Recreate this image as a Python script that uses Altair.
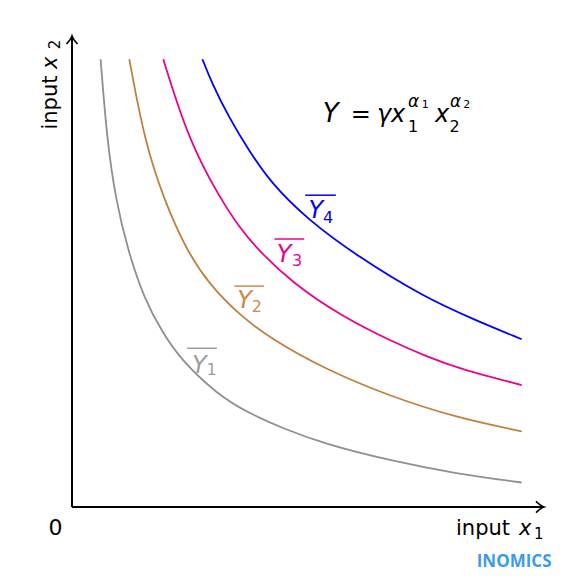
import altair as alt
import pandas as pd

# ---------------- data ----------------
gray_x = [0.606, 0.742, 0.928, 1.182, 1.538, 1.924, 2.314, 3.066, 3.771, 4.470, 5.324, 6.737, 8.150, 9.527]
gray_y = [9.507, 7.792, 6.518, 5.456, 4.395, 3.694, 3.121, 2.399, 1.975, 1.669, 1.348, 0.987, 0.705, 0.520]

brown_x = [1.214, 1.532, 1.949, 2.426, 2.888, 3.559, 4.265, 5.324, 6.737, 8.150, 9.527]
brown_y = [9.507, 7.792, 6.518, 5.456, 4.749, 4.059, 3.546, 2.947, 2.348, 1.898, 1.607]

pink_x = [1.934, 2.468, 3.157, 3.559, 3.941, 4.682, 5.699, 6.780, 7.515, 8.220, 9.527]
pink_y = [9.507, 7.792, 6.518, 5.924, 5.456, 4.749, 4.059, 3.514, 3.195, 2.930, 2.590]

blue_x = [2.763, 2.966, 3.316, 3.739, 4.220, 4.979, 6.059, 7.443, 8.502, 9.527]
blue_y = [9.507, 8.996, 8.287, 7.580, 6.873, 6.115, 5.314, 4.465, 3.985, 3.561]

curve_names = ["Y1", "Y2", "Y3", "Y4"]
curve_colors = ["#8f8f8f", "#c08040", "#ec008c", "#0000ff"]
label_colors = ["#9e9e9e", "#c88a4c", "#ec008c", "#0000ff"]
label_subs = ["1", "2", "3", "4"]

# label anchors (data units): Y letter, subscript, overline
label_Y_x = [2.54, 3.50, 4.34, 5.01]
label_Y_y = [2.85, 4.22, 5.21, 6.13]
label_sub_x = [2.85, 3.81, 4.66, 5.32]
label_sub_y = [2.80, 4.13, 5.12, 6.04]
over_x1 = [2.44, 3.44, 4.29, 4.94]
over_x2 = [3.07, 4.07, 4.92, 5.59]
over_y = [3.37, 4.69, 5.69, 6.62]

XMAX, YMAX = 10, 10

# ---------------- build tables ----------------
rows = []
for name, xs_, ys_ in zip(curve_names, [gray_x, brown_x, pink_x, blue_x], [gray_y, brown_y, pink_y, blue_y]):
    for i, (a, b) in enumerate(zip(xs_, ys_)):
        rows.append({"curve": name, "i": i, "x": a, "y": b})
curves = pd.DataFrame(rows)

xs = alt.Scale(domain=[0, XMAX], nice=False, zero=False)
ys = alt.Scale(domain=[0, YMAX], nice=False, zero=False)

def X(f="x"):
    return alt.X(f"{f}:Q", scale=xs, axis=None)

def Y(f="y"):
    return alt.Y(f"{f}:Q", scale=ys, axis=None)

curve_layer = alt.Chart(curves).mark_line(strokeWidth=1.8, interpolate="basis").encode(
    x=X(), y=Y(), order="i:Q",
    color=alt.Color("curve:N", scale=alt.Scale(domain=curve_names, range=curve_colors), legend=None),
)

axes_df = pd.DataFrame({"x": [0, 0], "y": [0, 0], "x2": [XMAX, 0], "y2": [0, YMAX]})
axes_layer = alt.Chart(axes_df).mark_rule(strokeWidth=2, color="black").encode(
    x=X(), y=Y(), x2="x2:Q", y2="y2:Q")

arrow_r = alt.Chart(pd.DataFrame({"x": [XMAX], "y": [0]})).mark_point(
    shape="M -1 -0.7 Q -0.4 -0.12 0 0 Q -0.4 0.12 -1 0.7", filled=False,
    size=256, stroke="black", strokeWidth=1.6, opacity=1).encode(x=X(), y=Y())
arrow_u = alt.Chart(pd.DataFrame({"x": [0], "y": [YMAX]})).mark_point(
    shape="M -0.7 1 Q -0.12 0.4 0 0 Q 0.12 0.4 0.7 1", filled=False,
    size=256, stroke="black", strokeWidth=1.6, opacity=1).encode(x=X(), y=Y())

over_df = pd.DataFrame({"x": over_x1, "x2": over_x2, "y": over_y, "c": label_colors})
over_layer = alt.Chart(over_df).mark_rule(strokeWidth=1.5).encode(
    x=X(), x2="x2:Q", y=Y(), color=alt.Color("c:N", scale=None))

# text tables
italic_rows = [
    {"t": "Y", "x": lx, "y": ly, "s": 24, "c": c} for lx, ly, c in zip(label_Y_x, label_Y_y, label_colors)
] + [
    {"t": "x", "x": 9.47, "y": -0.594, "s": 21, "c": "black"},
    {"t": "Y", "x": 5.31, "y": 8.18, "s": 26, "c": "black"},
    {"t": "γ", "x": 6.46, "y": 8.18, "s": 24, "c": "black"},
    {"t": "x", "x": 6.76, "y": 8.18, "s": 24, "c": "black"},
    {"t": "α", "x": 7.12, "y": 8.50, "s": 17, "c": "black"},
    {"t": "x", "x": 7.69, "y": 8.18, "s": 24, "c": "black"},
    {"t": "α", "x": 8.01, "y": 8.50, "s": 17, "c": "black"},
]
upright_rows = [
    {"t": s, "x": lx, "y": ly, "s": 16, "c": c} for s, lx, ly, c in zip(label_subs, label_sub_x, label_sub_y, label_colors)
] + [
    {"t": "1", "x": 9.79, "y": -0.686, "s": 15, "c": "black"},
    {"t": "1", "x": 7.12, "y": 7.96, "s": 16, "c": "black"},
    {"t": "1", "x": 7.41, "y": 8.48, "s": 11, "c": "black"},
    {"t": "2", "x": 8.00, "y": 7.96, "s": 16, "c": "black"},
    {"t": "2", "x": 8.29, "y": 8.48, "s": 11, "c": "black"},
]
right_rows = [
    {"t": "input", "x": 9.28, "y": -0.594, "s": 21, "c": "black"},
]
center_rows = [
    {"t": "=", "x": 6.12, "y": 8.18, "s": 24, "c": "black"},
    {"t": "0", "x": -0.35, "y": -0.594, "s": 22, "c": "black"},
]
# rotated texts (angle 270): align right -> text ends at the anchor (upper end)
rot_end_rows = [
    {"t": "input", "x": -0.324, "y": 9.16, "s": 21, "c": "black"},
]
rot_up_rows = [
    {"t": "2", "x": -0.254, "y": 9.72, "s": 15, "c": "black"},
]
rot_it_rows = [
    {"t": "x", "x": -0.324, "y": 9.30, "s": 21, "c": "black"},
]

def text_layer(rows_, **kw):
    return alt.Chart(pd.DataFrame(rows_)).mark_text(font="DejaVu Sans", baseline="alphabetic", **kw).encode(
        x=X(), y=Y(), text="t:N",
        size=alt.Size("s:Q", scale=None),
        color=alt.Color("c:N", scale=None),
    )

t_italic = text_layer(italic_rows, align="left", fontStyle="italic")
t_upright = text_layer(upright_rows, align="left")
t_right = text_layer(right_rows, align="right")
t_center = text_layer(center_rows, align="center")
t_rot_end = text_layer(rot_end_rows, align="right", angle=270)
t_rot = text_layer(rot_up_rows, align="left", angle=270)
t_rot_it = text_layer(rot_it_rows, align="left", angle=270, fontStyle="italic")

brand = alt.Chart(pd.DataFrame({"t": ["INOMICS"], "x": [8.574], "y": [-1.268]})).mark_text(
    font="Open Sans", fontWeight="bold", fontSize=17, color="#3c9be8", align="left", baseline="alphabetic"
).encode(x=X(), y=Y(), text="t:N")

chart = alt.layer(
    curve_layer, axes_layer, arrow_r, arrow_u, over_layer,
    t_italic, t_upright, t_right, t_center, t_rot_end, t_rot, t_rot_it, brand,
).properties(
    width=472, height=471,
    autosize=alt.AutoSizeParams(type="none"),
    padding={"left": 64, "top": 28, "right": 20, "bottom": 68},
).configure_view(stroke=None)

chart.save("out.html", embed_options={"renderer": "svg", "actions": False})
